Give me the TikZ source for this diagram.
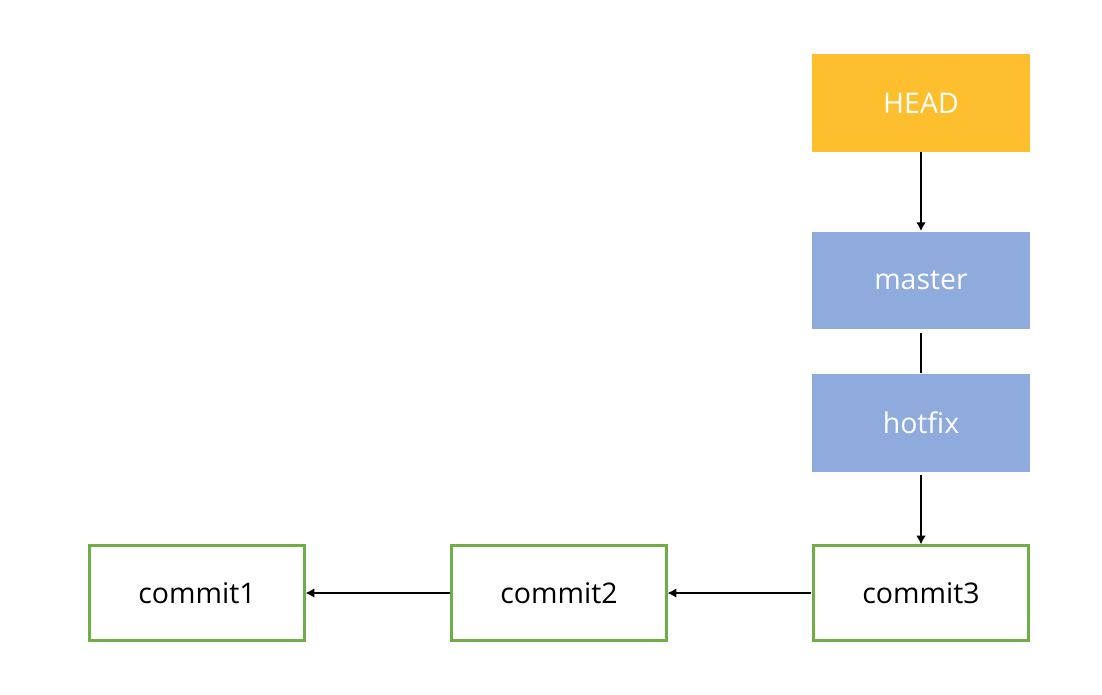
\documentclass[tikz,border=0pt]{standalone}
\usepackage{fontspec}
\setmainfont{Open Sans}
\usetikzlibrary{arrows.meta,positioning}
\definecolor{headyellow}{RGB}{253,191,45}
\definecolor{branchblue}{RGB}{143,170,220}
\definecolor{commitgreen}{RGB}{112,173,71}
\tikzset
{
    refnode/.style    = {rectangle, fill=#1, text=white, align=center, minimum width=4.36cm, minimum height=1.96cm, inner sep=0pt, font=\fontsize{16.2}{19}\selectfont},
    commitnode/.style = {rectangle, draw=commitgreen, line width=1.2pt, align=center, minimum width=4.3cm, minimum height=1.9cm, inner sep=0pt, font=\fontsize{16.2}{19}\selectfont},
    pointer/.style    = {-{Latex[length=5pt,width=5.5pt]}, line width=1.1pt}
}

\begin{document}
\begin{tikzpicture}[x=0.02cm, y=-0.02cm]
\useasboundingbox (0,0) rectangle (1102,694);
\node (HEAD)    [refnode=headyellow]  at (921,103)   {HEAD};
\node (master)  [refnode=branchblue]  at (921,280.5) {master};
\node (hotfix)  [refnode=branchblue]  at (921,422.5) {hotfix};
\node (commitA) [commitnode]          at (197,593)   {commit1};
\node (commitB) [commitnode]          at (559,593)   {commit2};
\node (commitC) [commitnode]          at (921,593)   {commit3};

\path
(HEAD)    edge[pointer]                        (master)
(master)  edge[line width=1.1pt, shorten <=2pt] (hotfix)
(hotfix)  edge[pointer, shorten <=2pt]          (commitC)
(commitC) edge[pointer, shorten <=1pt]          (commitB)
(commitB) edge[pointer]                        (commitA);
\end{tikzpicture}
\end{document}
